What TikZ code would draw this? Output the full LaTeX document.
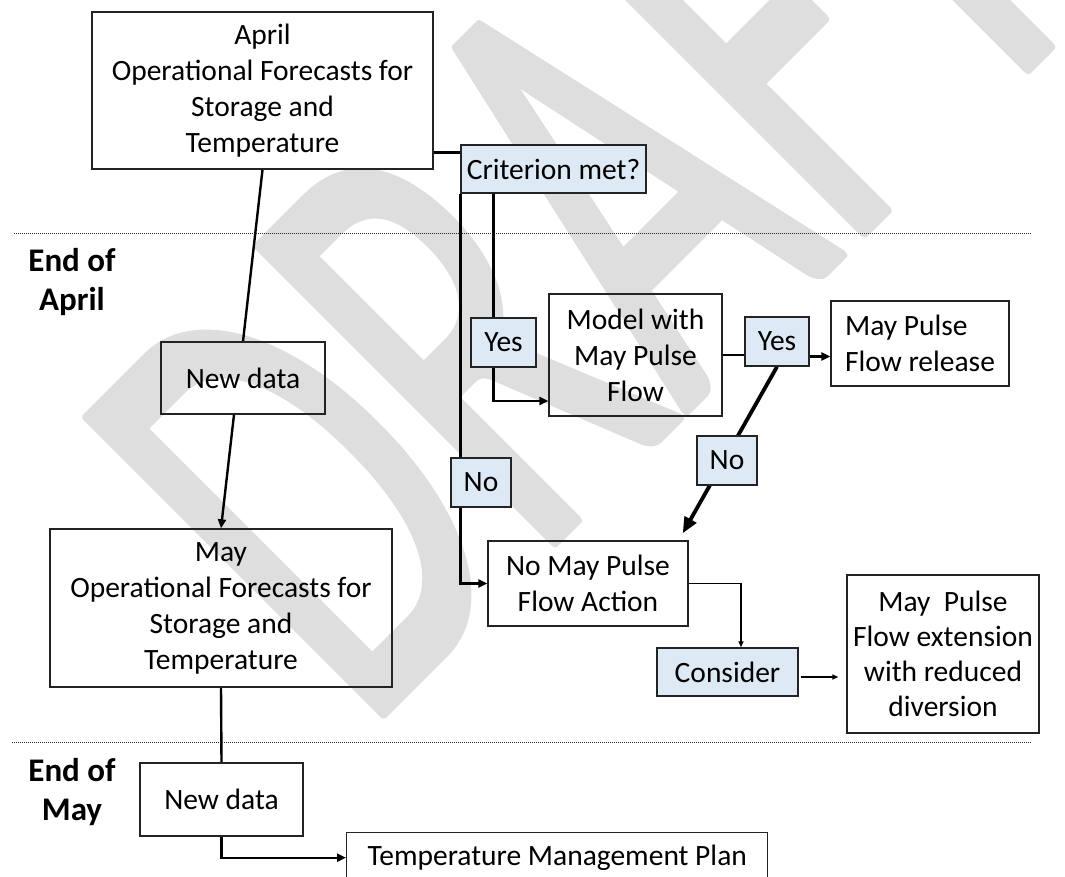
\documentclass[tikz,border=0pt]{standalone}
\usepackage{fontspec}
\setmainfont{Carlito}
\usetikzlibrary{arrows.meta,calc}
\definecolor{lblue}{RGB}{222,233,246}
\definecolor{wm}{RGB}{222,222,222}
\definecolor{edge}{RGB}{35,35,35}
\pgfdeclarelayer{wmlayer}
\pgfdeclarelayer{connlayer}
\pgfsetlayers{wmlayer,connlayer,main}
\newcommand{\roundtext}[2]{\special{pdf:literal direct 2 Tr #1 w 1 j 1 J}#2\special{pdf:literal direct 0 Tr 1 w 0 j 0 J}}
\begin{document}
\begin{tikzpicture}[x=1pt,y=-1pt,
  box/.style={draw=edge, line width=1.4pt, inner sep=0pt, align=center, font=\fontsize{29.5}{36}\selectfont},
  qbox/.style={box, fill=lblue},
  lbl/.style={inner sep=0pt, align=center, font=\bfseries\fontsize{33}{39}\selectfont},
  conn/.style={line width=2.4pt, draw=black},
  tip/.style={-{Triangle[length=9pt,width=8pt]}},
  smalltip/.style={-{Triangle[length=6pt,width=5pt]}},
  bigtip/.style={-{Triangle[length=16pt,width=13pt]}},
  sep/.style={line width=1pt, dash pattern=on 1pt off 1pt, draw=black!85},
]
\useasboundingbox (0,0) rectangle (1065,876);
% watermark
\begin{pgfonlayer}{wmlayer}
\node[text=wm, anchor=base, rotate=45, xscale=0.96, yscale=1.6, inner sep=0pt, font=\fontsize{408}{408}\selectfont] (wmark) at (735,362) {\roundtext{6}{DRAFT}};
\end{pgfonlayer}

% separators
\draw[sep] (14,233) -- (1032,233);
\draw[sep] (12,742) -- (1032,742);

% labels
\node[lbl] (eoa) at (72,282) {End of\\April};
\node[lbl] (eom) at (72,792) {End of\\May};

% boxes
\node[box, minimum width=341, minimum height=157] (apr) at (262.5,90.5) {April\\Operational Forecasts for\\Storage and\\Temperature};
\node[box, minimum width=164, minimum height=72] (nd1) at (243,378) {New data};
\node[box, minimum width=342, minimum height=158] (may) at (221,608) {May\\Operational Forecasts for\\Storage and\\Temperature};
\node[box, minimum width=163, minimum height=73] (nd2) at (221.5,799.5) {New data};
\node[box, minimum width=421, minimum height=50, anchor=north west] (tmp) at (346,832) {Temperature Management Plan};
\node[box, minimum width=173, minimum height=122] (model) at (635.5,355) {Model with\\May Pulse\\Flow};
\node[box, minimum width=178, minimum height=85, align=left] (rel) at (920,343.5) {May Pulse\\Flow release};
\node[box, minimum width=200, minimum height=85] (nomay) at (588,583.5) {No May Pulse\\Flow Action};
\node[box, minimum width=192, minimum height=158, font=\fontsize{29.5}{35}\selectfont] (ext) at (943,654) {May\ \ Pulse\\Flow extension\\with reduced\\diversion};

\node[qbox, minimum width=185, minimum height=48] (crit) at (553.5,169) {Criterion met?};
\node[qbox, minimum width=64, minimum height=49] (yes2) at (777,341.5) {Yes};
\node[qbox, minimum width=65, minimum height=49] (yes1) at (503.5,342.5) {Yes};
\node[qbox, minimum width=60, minimum height=49] (no1) at (481,482.5) {No};
\node[qbox, minimum width=60, minimum height=49] (no2) at (727,460.5) {No};
\node[qbox, minimum width=141, minimum height=48] (cons) at (727.5,672) {Consider};

\coordinate (a1) at ([yshift=-8pt]crit.north west);
\coordinate (a2) at ([xshift=33pt]crit.south west);

\begin{pgfonlayer}{connlayer}
\draw[conn] (apr.south) -- (nd1.north);
\draw[conn, tip] ([xshift=-9pt]nd1.south) -- (may.north);
\draw[conn] (may.south) -- (nd2.north);
\draw[conn, tip] (nd2.south) |- (tmp.west);
\draw[conn] (a1) -- (a1 -| apr.east);
\draw[conn, tip] (crit.south west) |- (nomay.west);
\draw[conn, tip] (a2) |- ([yshift=-46pt]model.west);
\draw[conn] (model.east) -- (model.east -| yes2.west);
\draw[conn, tip] ([yshift=-15pt]yes2.east) -- ($(yes2.east -| rel.west)+(0,15)$);
\draw[line width=3.8pt, bigtip] (yes2.south) -- ($(nomay.north east)+(-6,-7)$);
\draw[line width=1.8pt, smalltip] (nomay.east) -| ([xshift=13.5pt]cons.north);
\draw[line width=2.2pt, smalltip] ($(cons.east)+(2,5)$) -- ($(cons.east -| ext.west)+(-8,5)$);
\end{pgfonlayer}
\end{tikzpicture}
\end{document}
